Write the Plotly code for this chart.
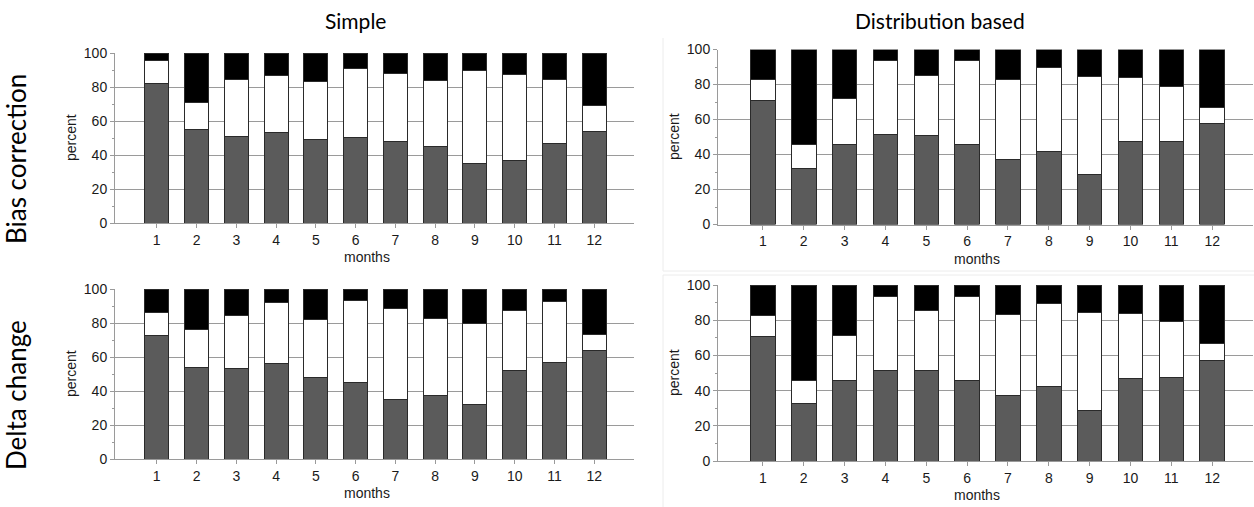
import plotly.graph_objects as go

W, H = 1254, 507

months = list(range(1, 13))
month_labels = [str(m) for m in months]
col_titles = ["Simple", "Distribution based"]
row_titles = ["Bias correction", "Delta change"]
y_ticks = [0, 20, 40, 60, 80, 100]

# Share of months (percent) in each class: lower (grey), middle (white), upper (black)
simple_bias_low = [82, 55, 51, 53, 49, 50.5, 48, 45, 35, 37, 47, 54]
simple_bias_mid = [13.5, 16, 33.5, 34, 34.5, 40.5, 40, 39, 54.5, 50.5, 37.5, 15]
simple_bias_top = [4.5, 29, 15.5, 13, 16.5, 9, 12, 16, 10.5, 12.5, 15.5, 31]

dist_bias_low = [71, 32, 45.5, 51.5, 51, 46, 37, 42, 28.5, 47.5, 47.5, 57.5]
dist_bias_mid = [12, 13.5, 26.5, 42, 34, 48, 46, 48, 56, 36.5, 31.5, 9.5]
dist_bias_top = [17, 54.5, 28, 6.5, 15, 6, 17, 10, 15.5, 16, 21, 33]

simple_delta_low = [72.5, 54, 53.5, 56, 48, 45, 35, 37.5, 32, 52, 57, 64]
simple_delta_mid = [13.5, 22, 31, 36, 34, 48.5, 53.5, 45, 47.5, 35.5, 35.5, 9]
simple_delta_top = [14, 24, 15.5, 8, 18, 6.5, 11.5, 17.5, 20.5, 12.5, 7.5, 27]

dist_delta_low = [70.5, 32.5, 46, 51.5, 51.5, 46, 37, 42.5, 28.5, 47, 47.5, 57]
dist_delta_mid = [12, 13, 25.5, 42, 34, 47.5, 46, 47, 56, 37, 32, 10]
dist_delta_top = [17.5, 54.5, 28.5, 6.5, 14.5, 6.5, 17, 10.5, 15.5, 16, 20.5, 33]

panels = [
    # (low, mid, top, x-pixel span, y-pixel span, x range)
    (simple_bias_low, simple_bias_mid, simple_bias_top, (115, 634), (53, 223), (-0.05, 13)),
    (dist_bias_low, dist_bias_mid, dist_bias_top, (718, 1253), (49.5, 224.5), (-0.1, 13)),
    (simple_delta_low, simple_delta_mid, simple_delta_top, (115, 634), (289, 459), (-0.05, 13)),
    (dist_delta_low, dist_delta_mid, dist_delta_top, (718, 1253), (285, 461), (-0.1, 13)),
]

seg_colors = ["#5b5b5b", "#ffffff", "#000000"]
axis_grey = "#9a9a9a"
tick_font = dict(family="Liberation Sans, Arial, sans-serif", size=14, color="#1a1a1a")

fig = go.Figure()
layout = {}
annotations = []

for i, (low, mid, top, (x0, x1), (y0, y1), xr) in enumerate(panels):
    n = i + 1
    xa = "x" if n == 1 else f"x{n}"
    ya = "y" if n == 1 else f"y{n}"
    for vals, col in zip((low, mid, top), seg_colors):
        fig.add_trace(go.Bar(
            x=months, y=vals, xaxis=xa, yaxis=ya, width=0.6,
            marker=dict(color=col, line=dict(color="#2a2a2a", width=1)),
            showlegend=False, hoverinfo="x+y",
        ))
    xkey = "xaxis" if n == 1 else f"xaxis{n}"
    ykey = "yaxis" if n == 1 else f"yaxis{n}"
    layout[xkey] = dict(
        domain=[x0 / W, x1 / W], range=list(xr), anchor=ya, automargin=False,
        tickmode="array", tickvals=months, ticktext=month_labels,
        ticks="outside", ticklen=4, tickcolor=axis_grey, tickwidth=1,
        showline=True, linecolor=axis_grey, linewidth=1,
        showgrid=False, zeroline=False, tickfont=tick_font, fixedrange=True,
    )
    layout[ykey] = dict(
        domain=[1 - y1 / H, 1 - y0 / H], range=[0, 100], anchor=xa, automargin=False,
        tickmode="array", tickvals=y_ticks,
        ticks="outside", ticklen=4, tickcolor=axis_grey, tickwidth=1,
        minor=dict(dtick=10, tick0=0, ticks="outside", ticklen=2,
                   tickcolor=axis_grey, showgrid=False),
        showline=True, linecolor=axis_grey, linewidth=1,
        showgrid=True, gridcolor=axis_grey, gridwidth=1,
        zeroline=False, tickfont=tick_font, fixedrange=True,
    )
    # axis titles
    annotations.append(dict(
        text="percent", xref="paper", yref="paper",
        x=(x0 - 44) / W, y=1 - ((y0 + y1) / 2) / H,
        textangle=-90, showarrow=False, xanchor="center", yanchor="middle",
        font=dict(family="Liberation Sans, Arial, sans-serif", size=14, color="#1a1a1a"),
    ))
    annotations.append(dict(
        text="months", xref="paper", yref="paper",
        x=((x0 + x1) / 2 - 8) / W, y=1 - (y1 + 34) / H,
        showarrow=False, xanchor="center", yanchor="middle",
        font=dict(family="Liberation Sans, Arial, sans-serif", size=14, color="#1a1a1a"),
    ))

# column headings
for title, cx in zip(col_titles, (355, 940)):
    annotations.append(dict(
        text=title, xref="paper", yref="paper", x=cx / W, y=1 - 21 / H,
        showarrow=False, xanchor="center", yanchor="middle",
        font=dict(family="Lato, Open Sans, sans-serif", size=21, color="#000000"),
    ))

# row headings
for title, cy in zip(row_titles, (159, 395)):
    annotations.append(dict(
        text=title, xref="paper", yref="paper", x=16 / W, y=1 - cy / H,
        textangle=-90, showarrow=False, xanchor="center", yanchor="middle",
        font=dict(family="Lato, Open Sans, sans-serif", size=26, color="#000000"),
    ))

# faint frames around the right-hand column of panels
frame = dict(color="#ececec", width=1)
shapes = [
    dict(type="line", xref="paper", yref="paper", x0=663 / W, x1=663 / W,
         y0=1 - 271 / H, y1=1 - 38 / H, line=frame, layer="below"),
    dict(type="line", xref="paper", yref="paper", x0=663 / W, x1=1,
         y0=1 - 271 / H, y1=1 - 271 / H, line=frame, layer="below"),
    dict(type="line", xref="paper", yref="paper", x0=663 / W, x1=1,
         y0=1 - 275 / H, y1=1 - 275 / H, line=frame, layer="below"),
    dict(type="line", xref="paper", yref="paper", x0=663 / W, x1=663 / W,
         y0=0, y1=1 - 275 / H, line=frame, layer="below"),
]

fig.update_layout(
    template="none",
    width=W, height=H, margin=dict(l=0, r=0, t=0, b=0, autoexpand=False),
    paper_bgcolor="white", plot_bgcolor="white",
    barmode="stack", bargap=0.4, annotations=annotations, shapes=shapes,
    **layout,
)

fig.write_html("out.html", include_plotlyjs=True, config={"displayModeBar": False})
